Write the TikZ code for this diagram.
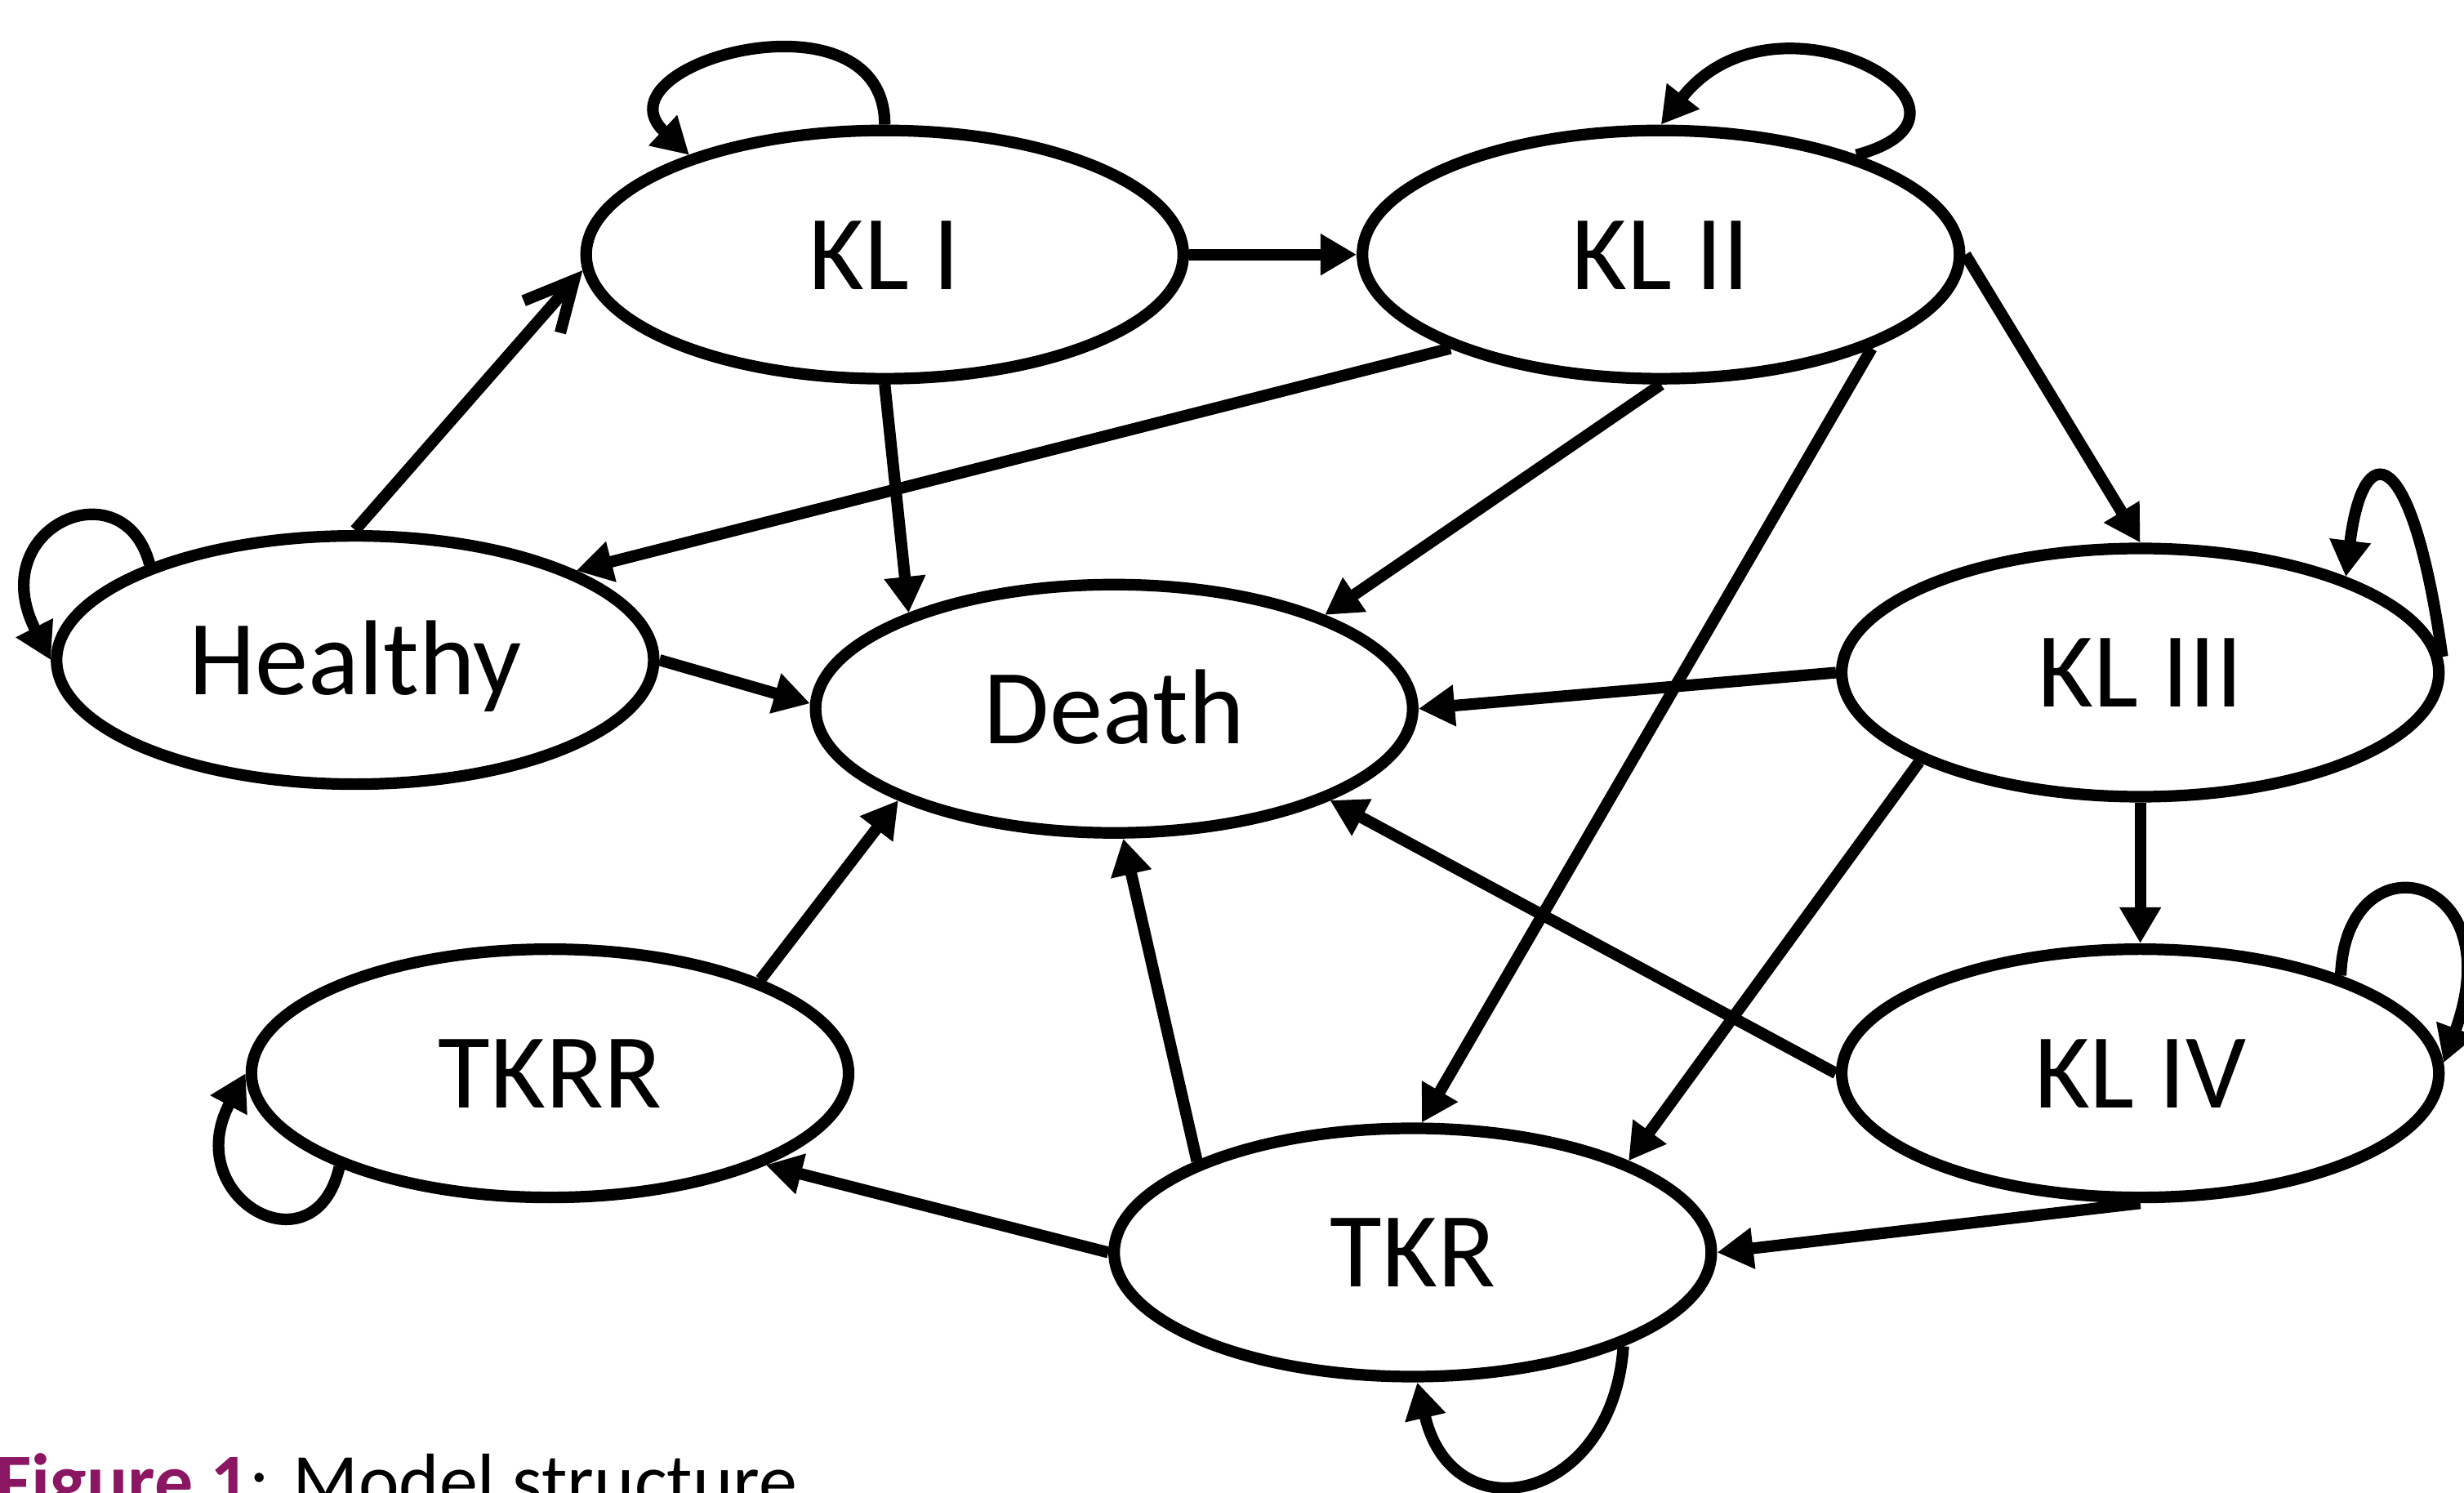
\documentclass[tikz,border=0pt]{standalone}
\usepackage{fontspec}
\setmainfont{Carlito}
\usepackage{tikz}
\usetikzlibrary{arrows.meta,shapes.geometric}
\definecolor{figpurple}{RGB}{139,22,98}

\begin{document}
\begin{tikzpicture}[x=0.1mm,y=0.1mm,line width=2.1pt,>={Triangle[length=2.3mm,width=2.5mm]}]
	\useasboundingbox (0,0) rectangle (1568,-950);
	\tikzset{every node/.style={ellipse,draw,minimum width=38mm,minimum height=15.8mm,inner sep=0pt,text height=4.4mm,text depth=0pt,font=\fontsize{19.3}{23}\selectfont}}
	\node (K1) at (563,-162)  {KL I};
	\node (K2) at (1057,-162) {KL II};
	\node (H)  at (226,-420)  {Healthy};
	\node (D)  at (709,-451)  {Death};
	\node (K3) at (1362,-428) {KL III};
	\node (R)  at (350,-683)  {TKRR};
	\node (K4) at (1362,-683) {KL IV};
	\node (T)  at (899,-797)  {TKR};
	\tikzset{openhead/.style={-{Straight Barb[length=3.1mm,width=3.1mm]}}}
	\path[->]
	(H.north)  edge [openhead] (K1.183)
	(K1.east)  edge (K2.west)
	(K1.south) edge (D.155)
	(K2.204)   edge (H.22)
	(K2.south) edge (D.24)
	(K2.336)   edge (T.86)
	(K2.east)  edge (K3.north)
	(H.east)   edge (D.179)
	(K3.west)  edge (D.east)
	(K3.south) edge (K4.north)
	(K3.202)   edge (T.23)
	(K4.west)  edge (D.337)
	(K4.south) edge (T.east)
	(T.157)    edge (D.274)
	(T.west)   edge (R.337)
	(R.24)     edge (D.203)
	(K1.north) edge [out=90,in=137,out distance=9mm,in distance=8.5mm] (K1.153)
	(K2.27)    edge [out=15,in=52,out distance=10.5mm,in distance=12mm] (K2.north)
	(H.155)    edge [out=105,in=117,out distance=6.5mm,in distance=9.5mm] (H.west)
	(K3.3)     edge [out=98,in=83,out distance=14mm,in distance=9mm] (K3.25)
	(K4.26)    edge [out=88,in=70,out distance=9mm,in distance=13mm] (K4.2)
	(R.204)    edge [out=257,in=242,out distance=7mm,in distance=9mm] (R.west)
	(T.336)    edge [out=266,in=283,out distance=10mm,in distance=10mm] (T.272);
	\tikzset{every node/.style={}}
	\node[anchor=base west,inner sep=0pt,font=\fontsize{13.9}{16}\selectfont] (cap) at (-6,-959) {\textcolor{figpurple}{\textbf{Figure 1}}: Model structure};
\end{tikzpicture}
\end{document}
